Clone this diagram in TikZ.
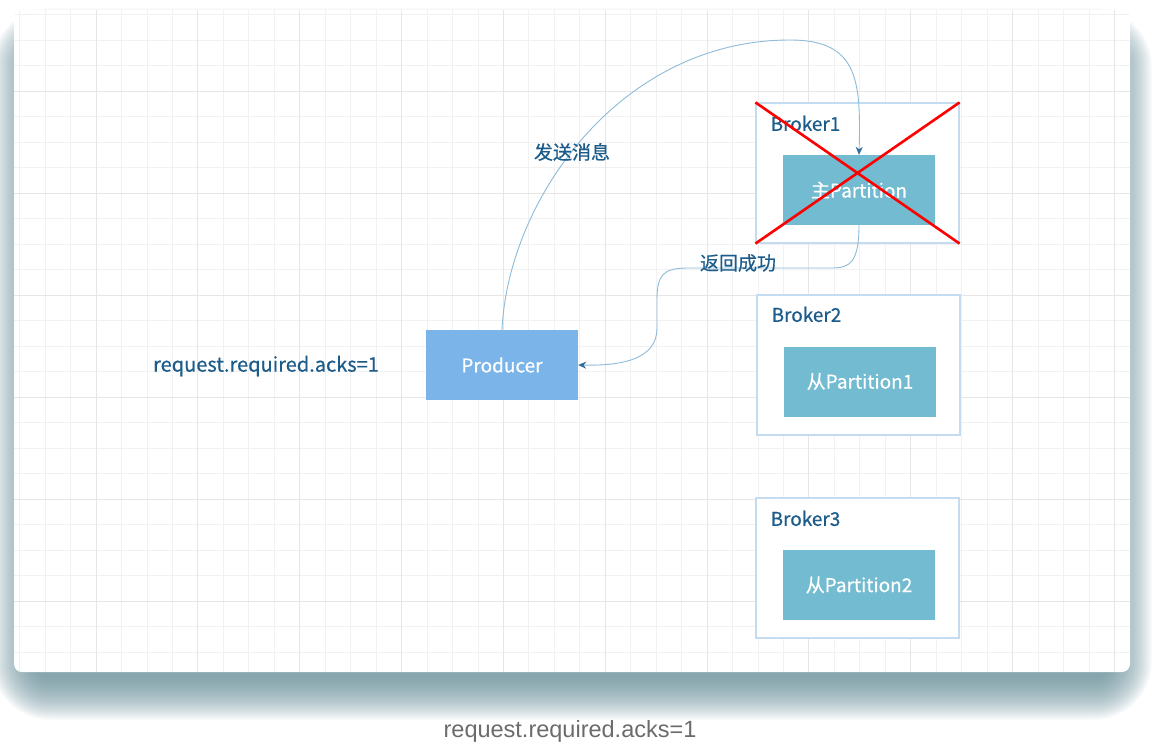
\documentclass[tikz,border=0pt]{standalone}
\usepackage{fontspec}
\setmainfont{Noto Sans CJK SC}[FakeBold=0.5]
\newfontfamily\capfont{Liberation Sans}
\usetikzlibrary{arrows.meta}

\definecolor{labelblue}{HTML}{1C5C8A}
\definecolor{brokerline}{HTML}{C5DCF0}
\definecolor{partfill}{HTML}{72BBD0}
\definecolor{prodfill}{HTML}{7AB4E8}
\definecolor{connline}{HTML}{8DBBDA}
\definecolor{tipblue}{HTML}{2F6E99}
\definecolor{minorgrid}{HTML}{F1F1F1}
\definecolor{majorgrid}{HTML}{E6E6E6}
\definecolor{shadowcol}{HTML}{5E8792}
\definecolor{capgray}{HTML}{6B6B6B}

\tikzset{
  broker/.style={draw=brokerline, line width=1.2pt, fill=white,
    minimum width=203pt, minimum height=140pt, inner sep=0pt},
  partition/.style={fill=partfill, text=white, minimum width=152pt,
    minimum height=70pt, inner sep=0pt, font=\fontsize{19}{22}\selectfont},
  producer/.style={fill=prodfill, text=white, minimum width=152pt,
    minimum height=70pt, inner sep=0pt, font=\fontsize{19}{22}\selectfont},
  brokerlabel/.style={text=labelblue, anchor=west, inner sep=0pt,
    font=\fontsize{19}{22}\selectfont},
  msglabel/.style={text=labelblue, inner sep=0pt, font=\fontsize{19}{22}\selectfont},
  conn/.style={draw=connline, line width=0.9pt,
    -{Stealth[length=8pt, width=7pt, color=tipblue]}},
  cross/.style={draw=red, line width=2.6pt},
  gridline/.style={draw=minorgrid, line width=0.8pt},
  gridmajor/.style={draw=majorgrid, line width=0.9pt},
  shadowlayer/.style={fill=shadowcol, opacity=0.032},
}

\begin{document}
\begin{tikzpicture}[x=1pt, y=-1pt]
  \useasboundingbox (0,0) rectangle (1156,754);

  % card shadow
  \foreach \e [evaluate=\e as \r using {16+\e}] in {0,...,42}
    \fill[shadowlayer, rounded corners=\r pt]
      ({34-\e},{50-\e}) rectangle ({1110+\e},{678+\e});

  % card and grid
  \fill[white, rounded corners=8pt] (14,10) rectangle (1130,672);
  \begin{scope}
    \clip[rounded corners=8pt] (14,10) rectangle (1130,672);
    \foreach \i in {-3,...,41}
      \draw[gridline] ({96+25.46*\i},10) -- ({96+25.46*\i},672);
    \foreach \j in {-3,...,23}
      \draw[gridline] (14,{91+25.5*\j}) -- (1130,{91+25.5*\j});
    \foreach \i in {-1,...,10}
      \draw[gridmajor] ({96+101.84*\i},10) -- ({96+101.84*\i},672);
    \foreach \j in {-1,...,6}
      \draw[gridmajor] (14,{91+102*\j}) -- (1130,{91+102*\j});
  \end{scope}

  % brokers
  \node[broker] (b1) at (857.5,173) {};
  \node[broker] (b2) at (858.5,365) {};
  \node[broker] (b3) at (857.5,568) {};
  \node[brokerlabel] (b1label) at ([xshift=15pt, yshift=-21pt]b1.north west) {Broker1};
  \node[brokerlabel] (b2label) at ([xshift=15pt, yshift=-20pt]b2.north west) {Broker2};
  \node[brokerlabel] (b3label) at ([xshift=15pt, yshift=-21pt]b3.north west) {Broker3};

  % partitions
  \node[partition] (main) at (859,190) {主Partition};
  \node[partition] (slave1) at (860,381.5) {从Partition1};
  \node[partition] (slave2) at (859,585) {从Partition2};

  % producer
  \node[producer] (prod) at (502,365) {Producer};
  \node[msglabel, font=\fontsize{20}{23}\selectfont] (acks) at (266,366) {request.required.acks=1};

  % send
  \coordinate (top) at (790,40);
  \draw[conn] (prod.north) .. controls (508,200) and (620,40) .. (top)
    .. controls (858,40) and (861,80) .. (main.north);
  \node[msglabel] (sendlabel) at (572,152) {发送消息};

  % reply
  \coordinate (ret1) at (832,268);
  \coordinate (ret2) at (688,268);
  \coordinate (ret3) at (657,300);
  \coordinate (ret4) at (657,328);
  \draw[conn] (main.south) .. controls (859,262) and (850,268) .. (ret1)
    -- (ret2) .. controls (662,268) and (657,276) .. (ret3)
    -- (ret4) .. controls (657,358) and (625,366) .. (prod.east);
  \node[msglabel] (retlabel) at (738,263) {返回成功};

  % broker1 down
  \draw[cross] (b1.north west) -- (b1.south east);
  \draw[cross] (b1.south west) -- (b1.north east);

  % caption
  \node[text=capgray, font=\capfont\fontsize{23.5}{27}\selectfont] (caption)
    at (570,731) {request.required.acks=1};
\end{tikzpicture}
\end{document}
